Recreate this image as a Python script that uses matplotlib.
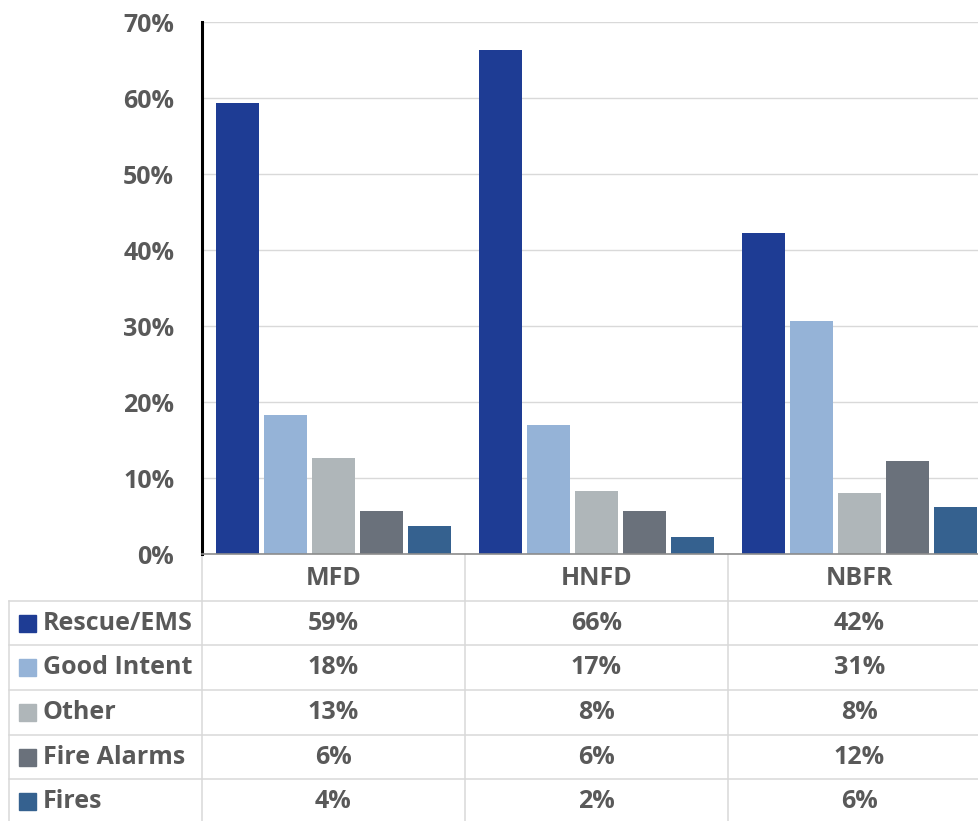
import numpy as np
import matplotlib.pyplot as plt
from matplotlib.patches import Rectangle
from matplotlib.ticker import FuncFormatter

departments = ['MFD', 'HNFD', 'NBFR']
call_types = ['Rescue/EMS', 'Good Intent', 'Other', 'Fire Alarms', 'Fires']
rescue_ems = [0.594, 0.663, 0.422]
good_intent = [0.183, 0.170, 0.307]
other = [0.126, 0.083, 0.080]
fire_alarms = [0.056, 0.056, 0.122]
fires = [0.037, 0.022, 0.062]
colors = ['#1e3c94', '#95b3d7', '#afb6b9', '#6a717b', '#35618f']

series = [rescue_ems, good_intent, other, fire_alarms, fires]

W, H = 979, 821
TEXT = '#595959'
LINE = '#d9d9d9'
FONT = 'Open Sans'
FS = 18

fig = plt.figure(figsize=(W / 100, H / 100), dpi=100)

# chart area in pixels
left_px, top_px, bottom_px = 202, 22.3, 554
group_px = 263
ax = fig.add_axes([left_px / W, 1 - bottom_px / H,
                   3 * group_px / W, (bottom_px - top_px) / H])

x = np.arange(len(departments))
step, width = 0.1825, 0.1635
for i, (vals, c) in enumerate(zip(series, colors)):
    ax.bar(x + (i - 2) * step, vals, width, color=c, zorder=3)

ax.set_xlim(-0.5, len(departments) - 0.5)
ax.set_ylim(0, 0.7)
ax.set_yticks(np.arange(0, 0.71, 0.1))
ax.yaxis.set_major_formatter(FuncFormatter(lambda v, p: f'{v * 100:.0f}%'))
ax.tick_params(axis='y', length=0, pad=20, labelsize=FS, labelcolor=TEXT)
for lab in ax.get_yticklabels():
    lab.set_fontfamily(FONT)
    lab.set_fontweight('bold')
ax.set_xticks([])
ax.grid(axis='y', color=LINE, linewidth=1.0, zorder=0)
for s in ['top', 'right']:
    ax.spines[s].set_visible(False)
ax.spines['left'].set_color('black')
ax.spines['left'].set_linewidth(2.2)
ax.spines['bottom'].set_color('#8c8c8c')
ax.spines['bottom'].set_linewidth(1.2)
ax.spines['bottom'].set_zorder(4)

# data table underneath, drawn in pixel coordinates
ov = fig.add_axes([0, 0, 1, 1], zorder=-1)
ov.set_xlim(0, W)
ov.set_ylim(H, 0)
ov.axis('off')

row_h = 44.7
header_bottom = 600.7
table_left = 9.5
col_x = [left_px + k * group_px for k in range(len(departments) + 1)]

for cx in col_x:
    ov.plot([cx, cx], [bottom_px, H + 5], color=LINE, lw=1.1)
ov.plot([table_left, table_left], [header_bottom, H + 5], color=LINE, lw=1.1)
for r in range(len(call_types) + 1):
    y = header_bottom + r * row_h
    ov.plot([table_left, W + 5], [y, y], color=LINE, lw=1.1)

txt = dict(fontfamily=FONT, fontweight='bold', fontsize=FS, color=TEXT)
for j, name in enumerate(departments):
    ov.text((col_x[j] + col_x[j + 1]) / 2, (bottom_px + header_bottom) / 2 + 1,
            name, ha='center', va='center', **txt)

for r, (name, vals, c) in enumerate(zip(call_types, series, colors)):
    yc = header_bottom + (r + 0.5) * row_h
    ov.add_patch(Rectangle((19, yc - 8.5), 17, 17, color=c))
    ov.text(43, yc, name, ha='left', va='center', **txt)
    for j, v in enumerate(vals):
        ov.text((col_x[j] + col_x[j + 1]) / 2, yc, f'{round(v * 100):.0f}%',
                ha='center', va='center', **txt)

fig.savefig('out.png', dpi=100)
